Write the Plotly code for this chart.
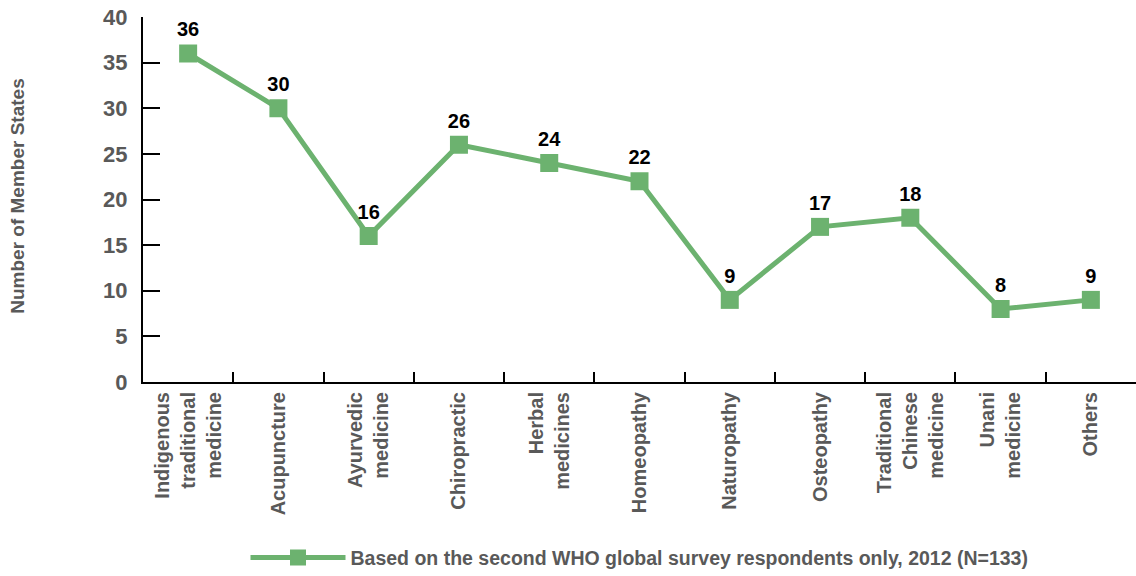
import plotly.graph_objects as go

categories = [
    "Indigenous<br>traditional<br>medicine",
    "Acupuncture",
    "Ayurvedic<br>medicine",
    "Chiropractic",
    "Herbal<br>medicines",
    "Homeopathy",
    "Naturopathy",
    "Osteopathy",
    "Traditional<br>Chinese<br>medicine",
    "Unani<br>medicine",
    "Others",
]
values = [36, 30, 16, 26, 24, 22, 9, 17, 18, 8, 9]
series_name = "Based on the second WHO global survey respondents only, 2012 (N=133)"
y_title = "Number of Member States"
y_ticks = [0, 5, 10, 15, 20, 25, 30, 35, 40]

GREEN = "#6cb26f"
GRAY = "#595959"
FONT = "Liberation Sans Narrow, Arial Narrow, Liberation Sans, sans-serif"

fig = go.Figure()
fig.add_trace(go.Scatter(
    x=categories, y=values, mode="lines+markers+text",
    name=series_name,
    line=dict(color=GREEN, width=5),
    marker=dict(symbol="square", size=18, color=GREEN),
    text=[str(v) for v in values],
    textposition="top center",
    textfont=dict(family=FONT, size=20, color="#000000", weight="bold"),
    cliponaxis=False,
))

fig.add_annotation(
    text=y_title, xref="paper", yref="paper",
    x=-0.126, y=0.51, xanchor="center", yanchor="middle",
    textangle=-90, showarrow=False,
    font=dict(family=FONT, size=19, color=GRAY, weight="bold"),
)

fig.update_layout(
    width=1136, height=576,
    margin=dict(l=143, r=0, t=17, b=194, autoexpand=False),
    paper_bgcolor="white", plot_bgcolor="white",
    font=dict(family=FONT, size=19, color=GRAY, weight="bold"),
    showlegend=True,
    legend=dict(orientation="h", x=0.5, xanchor="center", y=-0.482, yanchor="middle",
                itemwidth=95, font=dict(family=FONT, size=19.5, color=GRAY, weight="bold")),
    xaxis=dict(
        type="category", tickangle=-90, tickson="boundaries",
        ticks="inside", ticklen=10, tickcolor="#000", tickwidth=1.5,
        showline=True, linecolor="#000", linewidth=2,
        showgrid=False, zeroline=False, automargin=False,
        tickfont=dict(family=FONT, size=20, color=GRAY, weight="bold"),
        range=[-0.5, 10.5],
    ),
    yaxis=dict(
        range=[0, 40], tickvals=y_ticks,
        ticks="inside", ticklen=17, tickcolor="#000", tickwidth=1.5,
        showline=True, linecolor="#000", linewidth=2,
        showgrid=False, zeroline=False, automargin=False,
        ticklabelstandoff=9, ticklabeloverflow="allow",
        tickfont=dict(family=FONT, size=22, color=GRAY, weight="bold"),
    ),
)

fig.write_html(
    "out.html",
    config={"displayModeBar": False},
    post_script="document.body.style.margin='0px';document.body.style.overflow='hidden';",
)
